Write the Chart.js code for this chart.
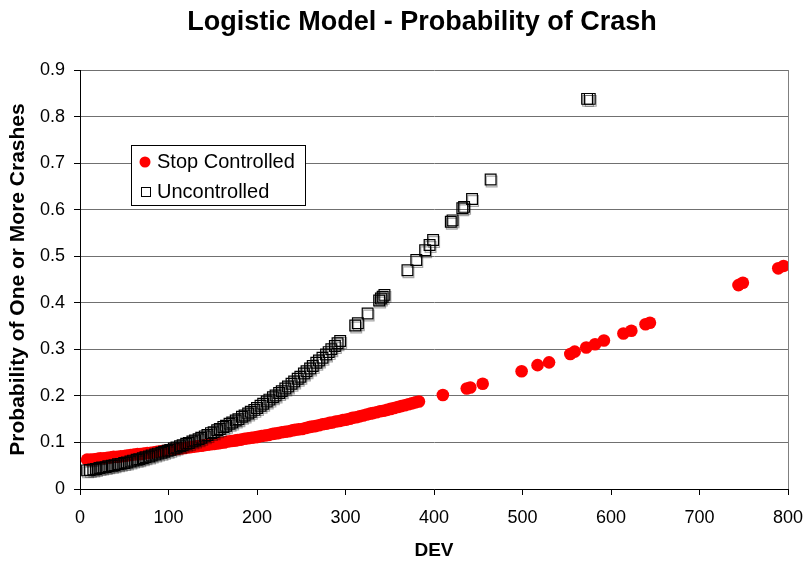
<!DOCTYPE html>
<html lang="en">
<head>
    <meta charset="UTF-8">
    <title>Logistic Model - Probability of Crash</title>
    <style>
        body {
            margin: 0;
            background-color: #ffffff;
        }
        .container {
            width: 804px;
            height: 561px;
        }
    </style>
</head>
<body>

<div class="container">
    <canvas id="graficoCrash" width="804" height="561"></canvas>
</div>

<script src="https://cdn.jsdelivr.net/npm/chart.js"></script>
<script>
    // Stop Controlled
    const stopDev = [8, 12, 16, 20, 23, 27, 31, 35, 38, 42, 46, 50, 53, 57, 61, 65, 68, 72, 76, 80,
        84, 87, 91, 95, 99, 102, 106, 110, 114, 118, 121, 125, 129, 133, 137, 140, 144, 148, 152, 156,
        159, 163, 167, 171, 175, 178, 182, 186, 190, 194, 198, 201, 205, 209, 213, 217, 220, 224, 228, 232,
        236, 240, 243, 247, 251, 255, 259, 262, 266, 270, 274, 278, 282, 285, 289, 293, 297, 301, 305, 308,
        312, 316, 320, 324, 328, 331, 335, 339, 343, 347, 351, 355, 359, 363, 367, 371, 375, 379, 383,
        410, 437, 441, 455, 499, 517, 530, 554, 559, 572, 582, 592, 614, 623, 639, 644, 744, 749, 789, 795];
    const stopProb = [0.063, 0.063, 0.064, 0.065, 0.066, 0.066, 0.067, 0.068, 0.069, 0.069,
        0.070, 0.071, 0.072, 0.073, 0.074, 0.075, 0.075, 0.076, 0.077, 0.078,
        0.079, 0.080, 0.081, 0.082, 0.083, 0.084, 0.085, 0.086, 0.087, 0.088,
        0.089, 0.090, 0.091, 0.092, 0.093, 0.094, 0.095, 0.096, 0.097, 0.098,
        0.099, 0.100, 0.102, 0.103, 0.104, 0.105, 0.106, 0.108, 0.109, 0.110,
        0.111, 0.112, 0.114, 0.115, 0.116, 0.118, 0.119, 0.120, 0.122, 0.123,
        0.124, 0.126, 0.127, 0.128, 0.129, 0.131, 0.133, 0.134, 0.135, 0.137,
        0.139, 0.140, 0.142, 0.143, 0.145, 0.146, 0.148, 0.149, 0.151, 0.153,
        0.154, 0.156, 0.158, 0.160, 0.162, 0.163, 0.165, 0.167, 0.168, 0.170,
        0.172, 0.174, 0.176, 0.178, 0.180, 0.182, 0.184, 0.186, 0.188,
        0.202, 0.216, 0.218, 0.226, 0.253, 0.266, 0.272, 0.290, 0.295, 0.304,
        0.311, 0.319, 0.334, 0.340, 0.354, 0.357, 0.438, 0.443, 0.474, 0.479];

    // Uncontrolled
    const uncDev = [8, 11, 15, 18, 22, 25, 29, 32, 36, 39, 43, 46, 50, 53, 57, 60, 64, 67, 71, 74,
        78, 81, 85, 88, 92, 95, 99, 102, 106, 109, 113, 116, 120, 123, 127, 130, 134, 137, 141, 144,
        148, 151, 155, 158, 162, 165, 169, 172, 176, 179, 183, 186, 190, 193, 197, 200, 204, 207, 211, 214,
        218, 221, 225, 228, 232, 235, 239, 242, 246, 249, 253, 256, 260, 263, 267, 270, 274, 278, 281, 284,
        288, 291, 294, 311, 314, 325, 338, 340, 342, 344, 370, 380, 390, 395, 399, 419, 421, 432, 434, 443,
        464, 573, 576];
    const uncProb = [0.040, 0.041, 0.042, 0.043, 0.045, 0.046, 0.047, 0.049, 0.050, 0.051,
        0.053, 0.054, 0.056, 0.057, 0.059, 0.061, 0.063, 0.064, 0.066, 0.068,
        0.070, 0.072, 0.074, 0.076, 0.078, 0.080, 0.082, 0.084, 0.087, 0.089,
        0.092, 0.094, 0.097, 0.099, 0.102, 0.104, 0.107, 0.110, 0.113, 0.116,
        0.120, 0.122, 0.126, 0.129, 0.133, 0.136, 0.140, 0.143, 0.147, 0.150,
        0.155, 0.158, 0.162, 0.166, 0.170, 0.174, 0.179, 0.183, 0.188, 0.192,
        0.197, 0.201, 0.206, 0.210, 0.216, 0.220, 0.226, 0.231, 0.237, 0.241,
        0.248, 0.253, 0.259, 0.264, 0.271, 0.276, 0.282, 0.289, 0.294, 0.300,
        0.307, 0.313, 0.318, 0.351, 0.356, 0.377, 0.405, 0.409, 0.413, 0.417,
        0.470, 0.492, 0.513, 0.524, 0.535, 0.574, 0.577, 0.603, 0.606, 0.623,
        0.665, 0.838, 0.838];

    const seriesNames = ['Stop Controlled', 'Uncontrolled'];
    const xTicks = [0, 100, 200, 300, 400, 500, 600, 700, 800];
    const yTicks = [0, 0.1, 0.2, 0.3, 0.4, 0.5, 0.6, 0.7, 0.8, 0.9];

    const FONT = "'Liberation Sans', Arial, sans-serif";

    // titulo, rotulo do eixo x e legenda desenhados a mao
    const extras = {
        id: 'extras',
        beforeDatasetDraw(chart, args) {
            if (args.index === 1) {
                const ctx = chart.ctx;
                ctx.save();
                ctx.shadowColor = 'rgba(0,0,0,0.35)';
                ctx.shadowOffsetX = 1;
                ctx.shadowOffsetY = 2;
                ctx.shadowBlur = 0;
            }
        },
        afterDatasetDraw(chart, args) {
            if (args.index === 1) chart.ctx.restore();
        },
        afterDraw(chart) {
            const ctx = chart.ctx;
            ctx.save();
            ctx.fillStyle = '#000';
            ctx.textBaseline = 'middle';
            ctx.textAlign = 'center';
            ctx.font = 'bold 27px ' + FONT;
            ctx.fillText('Logistic Model - Probability of Crash', 422, 23);

            const area = chart.chartArea;
            ctx.font = 'bold 19px ' + FONT;
            ctx.fillText('DEV', (area.left + area.right) / 2, 551);

            // legenda
            ctx.fillStyle = '#fff';
            ctx.fillRect(131.5, 145.5, 174, 60);
            ctx.strokeStyle = '#000';
            ctx.lineWidth = 1;
            ctx.strokeRect(131.5, 145.5, 174, 60);

            ctx.fillStyle = '#ff0000';
            ctx.beginPath();
            ctx.arc(145, 162, 5.5, 0, Math.PI * 2);
            ctx.fill();

            ctx.fillStyle = '#fff';
            ctx.fillRect(141.5, 187.5, 9, 9);
            ctx.strokeRect(141.5, 187.5, 9, 9);

            ctx.fillStyle = '#000';
            ctx.textAlign = 'left';
            ctx.font = '20px ' + FONT;
            ctx.fillText(seriesNames[0], 157, 162);
            ctx.fillText(seriesNames[1], 157, 192);
            ctx.restore();
        }
    };

    const ctx = document.getElementById('graficoCrash').getContext('2d');
    const chart = new Chart(ctx, {
        type: 'scatter',
        data: {
            datasets: [{
                label: seriesNames[0],
                data: stopDev.map((x, i) => ({ x: x, y: stopProb[i] })),
                pointStyle: 'circle',
                pointRadius: 6.3,
                pointBackgroundColor: '#ff0000',
                pointBorderColor: '#ff0000',
                pointBorderWidth: 0,
                order: 1
            }, {
                label: seriesNames[1],
                data: uncDev.map((x, i) => ({ x: x, y: uncProb[i] })),
                pointStyle: 'rect',
                pointRadius: 7.6,
                pointBackgroundColor: 'rgba(0,0,0,0)',
                pointBorderColor: '#000',
                pointBorderWidth: 1.2,
                order: 0
            }]
        },
        options: {
            responsive: false,
            animation: false,
            devicePixelRatio: 1,
            events: [],
            layout: {
                autoPadding: false,
                padding: { top: 70, right: 16, bottom: 0, left: 0 }
            },
            plugins: {
                legend: { display: false },
                title: { display: false },
                tooltip: { enabled: false }
            },
            scales: {
                x: {
                    type: 'linear',
                    min: 0,
                    max: 800,
                    afterFit: (scale) => {
                        scale.height = 72;
                        scale.paddingLeft = 0;
                        scale.paddingRight = 0;
                    },
                    afterBuildTicks: (scale) => { scale.ticks = xTicks.map(v => ({ value: v })); },
                    grid: {
                        color: (c) => c.tick && c.tick.value === 800 ? '#808080' : 'rgba(0,0,0,0)',
                        tickColor: '#000',
                        tickLength: 6
                    },
                    border: { color: '#000', width: 1 },
                    ticks: {
                        color: '#000',
                        font: { family: FONT, size: 18 },
                        padding: 12,
                        maxRotation: 0
                    }
                },
                y: {
                    min: 0,
                    max: 0.9,
                    afterFit: (scale) => {
                        scale.width = 80;
                        scale.paddingTop = 0;
                        scale.paddingBottom = 0;
                    },
                    afterBuildTicks: (scale) => { scale.ticks = yTicks.map(v => ({ value: v })); },
                    grid: {
                        color: '#707070',
                        tickColor: '#000',
                        tickLength: 6
                    },
                    border: { color: '#000', width: 1 },
                    ticks: {
                        color: '#000',
                        font: { family: FONT, size: 18 },
                        padding: 9,
                        callback: (v) => v === 0 ? '0' : v.toFixed(1)
                    },
                    title: {
                        display: true,
                        text: 'Probability of One or More Crashes',
                        color: '#000',
                        font: { family: FONT, size: 21, weight: 'bold' },
                        padding: { top: 6, bottom: 0 }
                    }
                }
            }
        },
        plugins: [extras]
    });
</script>

</body>
</html>
